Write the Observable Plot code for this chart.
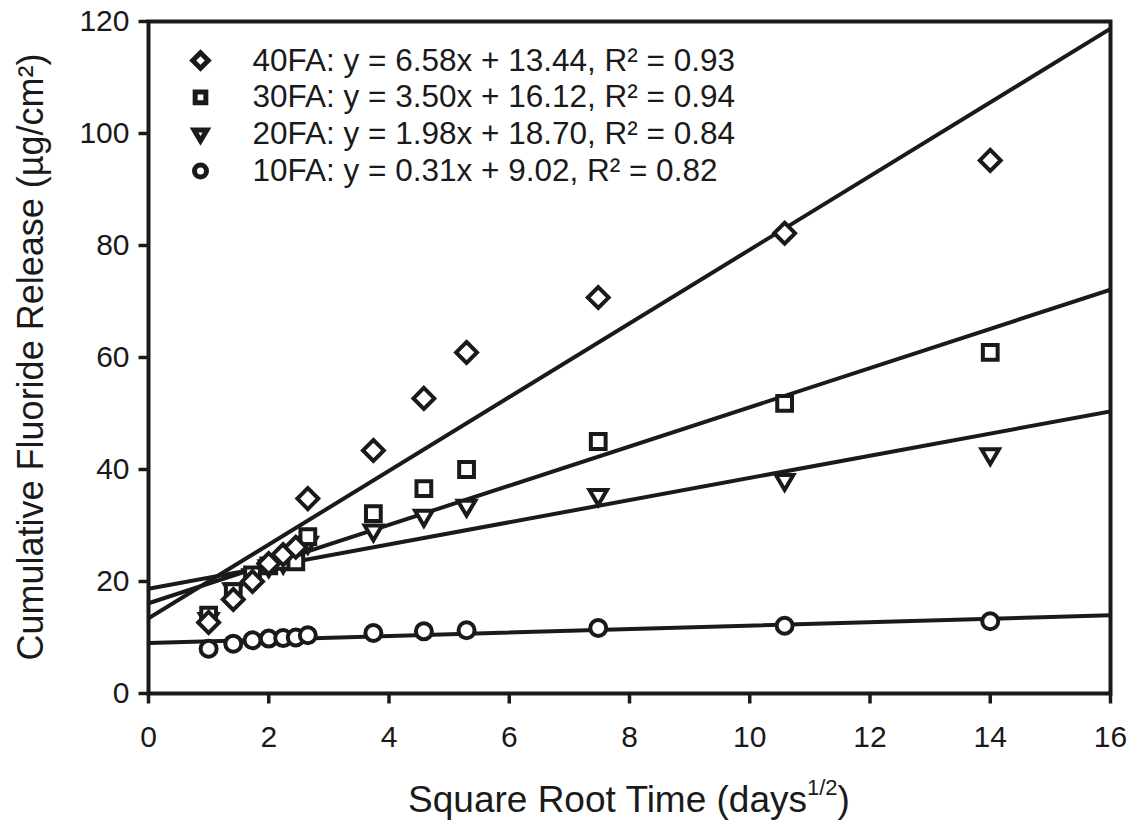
<!DOCTYPE html>
<html>
<head>
<meta charset="utf-8">
<script src="https://cdn.jsdelivr.net/npm/d3@7"></script>
<script src="https://cdn.jsdelivr.net/npm/@observablehq/plot@0.6"></script>
<style>
  html, body { margin: 0; padding: 0; background: #fff; }
  #chart svg { display: block; }
</style>
</head>
<body>
<div id="chart"></div>
<script>
// ---- data ----
const sqrtTime = [1.00, 1.41, 1.73, 2.00, 2.24, 2.45, 2.65, 3.74, 4.58, 5.29, 7.48, 10.58, 14.00];
const seriesNames = ["40FA", "30FA", "20FA", "10FA"];
const release40FA = [12.7, 16.8, 20.0, 23.2, 24.8, 26.1, 34.8, 43.4, 52.7, 60.9, 70.7, 82.2, 95.2];
const release30FA = [14.0, 18.2, 21.2, 22.8, 23.6, 23.5, 28.0, 32.1, 36.6, 40.0, 45.0, 51.8, 60.9];
const release20FA = [13.2, 18.5, 21.0, 22.6, 23.3, 24.6, 26.8, 29.0, 31.6, 33.4, 35.3, 38.0, 42.6];
const release10FA = [8.0, 8.9, 9.5, 9.8, 9.9, 10.0, 10.4, 10.8, 11.1, 11.3, 11.7, 12.1, 12.9];
const slopes = [6.58, 3.50, 1.98, 0.31];
const intercepts = [13.44, 16.12, 18.70, 9.02];
const rSquared = [0.93, 0.94, 0.84, 0.82];
const xTicks = [0, 2, 4, 6, 8, 10, 12, 14, 16];
const yTicks = [0, 20, 40, 60, 80, 100, 120];
const xDomain = [0, 16];
const yDomain = [0, 120];
const xTitle = "Square Root Time (days";
const xTitleSup = "1/2";
const yTitle = "Cumulative Fluoride Release (µg/cm²)";

// ---- build tables ----
const allValues = [release40FA, release30FA, release20FA, release10FA];
const ink = "#1a1a1a";
const triangleDown = {
  draw(ctx, size) {
    const r = Math.sqrt(size / Math.PI);
    ctx.moveTo(-0.95 * r, -0.62 * r);
    ctx.lineTo(0.95 * r, -0.62 * r);
    ctx.lineTo(0, 1.0 * r);
    ctx.closePath();
  }
};
const tickDown = {draw(ctx) { ctx.moveTo(0, 0); ctx.lineTo(0, 10); }};
const tickLeft = {draw(ctx) { ctx.moveTo(0, 0); ctx.lineTo(-10, 0); }};
const symbolFor = ["diamond2", "square2", triangleDown, "circle"];
const radiusFor = [9.4, 9.4, 9.2, 8.0];
const legendRadius = [7.0, 6.8, 6.8, 6.0];

const points = seriesNames.flatMap((s, i) =>
  sqrtTime.map((t, j) => ({series: s, t, v: allValues[i][j]})));
const fits = seriesNames.flatMap((s, i) =>
  xDomain.map(x => ({series: s, t: x, v: slopes[i] * x + intercepts[i]})));
const legendRows = seriesNames.map((s, i) => ({
  series: s,
  label: `${s}: y = ${slopes[i].toFixed(2)}x + ${intercepts[i].toFixed(2)}, R² = ${rSquared[i].toFixed(2)}`
}));

const W = 1133, H = 823;
const mL = 148, mR = 23, mT = 21, mB = 130;
const fontStack = "'Liberation Sans', Arial, Helvetica, sans-serif";

const marks = [];
// regression lines
seriesNames.forEach((s) => {
  marks.push(Plot.line(fits.filter(d => d.series === s), {
    x: "t", y: "v", stroke: ink, strokeWidth: 4, clip: true
  }));
});
// points: draw 10FA first, 40FA last
[3, 2, 1, 0].forEach(i => {
  marks.push(Plot.dot(points.filter(d => d.series === seriesNames[i]), {
    x: "t", y: "v", symbol: symbolFor[i], r: radiusFor[i],
    fill: "white", stroke: ink, strokeWidth: 4
  }));
});
// legend
legendRows.forEach((row, i) => {
  marks.push(Plot.dot([row], {
    frameAnchor: "top-left", dx: 52, dy: 39 + i * 36.8,
    symbol: symbolFor[i], r: legendRadius[i],
    fill: "white", stroke: ink, strokeWidth: 5
  }));
  marks.push(Plot.text([row], {
    frameAnchor: "top-left", dx: 104, dy: 39 + i * 36.8,
    text: "label", textAnchor: "start", lineAnchor: "middle",
    fontSize: 31.5, fill: ink
  }));
});
// axes: ticks and tick labels
marks.push(Plot.dot(xTicks, {x: d => d, frameAnchor: "bottom", symbol: tickDown, r: 5, stroke: ink, strokeWidth: 3.5, fill: "none"}));
marks.push(Plot.dot(yTicks, {y: d => d, frameAnchor: "left", symbol: tickLeft, r: 5, stroke: ink, strokeWidth: 3.5, fill: "none"}));
marks.push(Plot.text(xTicks, {x: d => d, text: d => String(d), frameAnchor: "bottom", dy: 44, lineAnchor: "middle", fontSize: 30, fill: ink}));
marks.push(Plot.text(yTicks, {y: d => d, text: d => String(d), frameAnchor: "left", dx: -19, textAnchor: "end", lineAnchor: "middle", fontSize: 30, fill: ink}));
marks.push(Plot.frame({stroke: ink, strokeWidth: 4}));

const plot = Plot.plot({
  width: W,
  height: H,
  marginLeft: mL,
  marginRight: mR,
  marginTop: mT,
  marginBottom: mB,
  x: {domain: xDomain, axis: null},
  y: {domain: yDomain, axis: null},
  style: {fontFamily: fontStack, fontSize: "25px", color: ink, background: "white"},
  marks
});
document.getElementById("chart").appendChild(plot);

const svg = d3.select(plot);
// axis titles (with superscript)
const xs = plot.scale("x").range, ys = plot.scale("y").range;
const xMid = (xs[0] + xs[1]) / 2, yMid = (ys[0] + ys[1]) / 2;
const xt = svg.append("text")
  .attr("x", xMid).attr("y", 812)
  .attr("text-anchor", "middle")
  .attr("font-size", 37)
  .attr("fill", ink);
xt.append("tspan").text(xTitle);
xt.append("tspan").attr("font-size", 22).attr("dy", -17).text(xTitleSup);
xt.append("tspan").attr("dy", 17).text(")");
svg.append("text")
  .attr("transform", `translate(30,${yMid}) rotate(-90)`)
  .attr("text-anchor", "middle")
  .attr("dy", "0.35em")
  .attr("font-size", 36)
  .attr("fill", ink)
  .text(yTitle);
</script>
</body>
</html>
